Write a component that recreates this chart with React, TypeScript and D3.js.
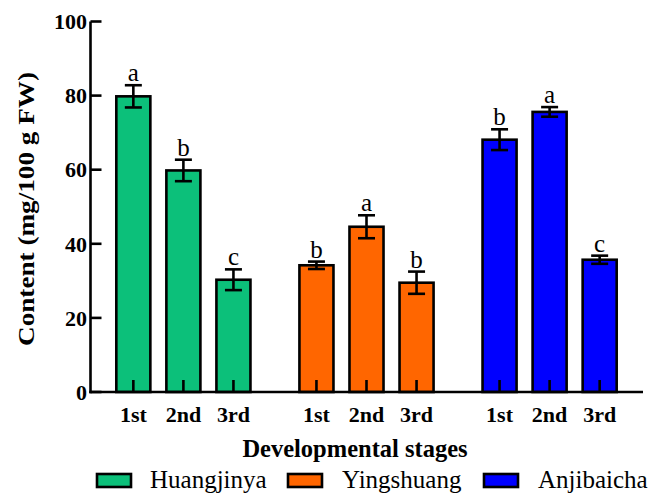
import React from "react";
import * as d3 from "d3";

const cultivars = ["Huangjinya", "Yingshuang", "Anjibaicha"];
const stages = ["1st", "2nd", "3rd"];
const colors = ["#0cc07a", "#ff6600", "#0000ff"];
const huangjinyaValues = [79.8, 59.8, 30.3];
const yingshuangValues = [34.2, 44.6, 29.5];
const anjibaichaValues = [68.1, 75.6, 35.7];
const huangjinyaErr = [3.0, 2.9, 2.8];
const yingshuangErr = [1.0, 3.1, 3.0];
const anjibaichaErr = [2.8, 1.3, 1.1];
const huangjinyaLetters = ["a", "b", "c"];
const yingshuangLetters = ["b", "a", "b"];
const anjibaichaLetters = ["b", "a", "c"];
const yTicks = [0, 20, 40, 60, 80, 100];

const valuesByCultivar = [huangjinyaValues, yingshuangValues, anjibaichaValues];
const errByCultivar = [huangjinyaErr, yingshuangErr, anjibaichaErr];
const lettersByCultivar = [huangjinyaLetters, yingshuangLetters, anjibaichaLetters];

const FONT = '"Liberation Serif"';

export default function App() {
  const W = 650;
  const H = 496;
  const axisX = 90.5;
  const axisY = 392;
  const y = d3.scaleLinear().domain([0, 100]).range([axisY, 21.5]);
  const xOuter = d3
    .scaleBand<string>()
    .domain(cultivars)
    .range([90, 643])
    .paddingInner(0.18)
    .paddingOuter(0.1);
  const xInner = d3
    .scaleBand<string>()
    .domain(stages)
    .range([0, xOuter.bandwidth()])
    .paddingInner(0.32)
    .paddingOuter(0.16);
  const bw = xInner.bandwidth();
  const capW = 17;
  const sw = 2.6;

  const bars: any[] = [];
  cultivars.forEach((c, ci) => {
    stages.forEach((s, si) => {
      const v = valuesByCultivar[ci][si];
      const e = errByCultivar[ci][si];
      const x0 = (xOuter(c) as number) + (xInner(s) as number);
      const cx = x0 + bw / 2;
      bars.push({ c, ci, s, si, v, e, x0, cx, letter: lettersByCultivar[ci][si] });
    });
  });

  const legendItems = [
    { x: 97, tx: 150 },
    { x: 288, tx: 342 },
    { x: 484, tx: 538 },
  ];

  const reg = { fontFamily: FONT };
  const bold = { fontFamily: FONT, fontWeight: 700 as const };

  return (
    <svg
      width={W}
      height={H}
      style={{ position: "absolute", left: 0, top: 0, background: "#fff" }}
    >
      <rect x={0} y={0} width={W} height={H} fill="#fff" />
      {bars.map((b, i) => (
        <g key={i}>
          <rect
            x={b.x0}
            y={y(b.v)}
            width={bw}
            height={axisY - y(b.v)}
            fill={colors[b.ci]}
            stroke="#000"
            strokeWidth={sw}
          />
          <line x1={b.cx} x2={b.cx} y1={axisY} y2={axisY - 12} stroke="#000" strokeWidth={sw} />
          <line x1={b.cx} x2={b.cx} y1={y(b.v + b.e)} y2={y(b.v - b.e)} stroke="#000" strokeWidth={sw} />
          <line
            x1={b.cx - capW / 2}
            x2={b.cx + capW / 2}
            y1={y(b.v + b.e)}
            y2={y(b.v + b.e)}
            stroke="#000"
            strokeWidth={sw}
          />
          <line
            x1={b.cx - capW / 2}
            x2={b.cx + capW / 2}
            y1={y(b.v - b.e)}
            y2={y(b.v - b.e)}
            stroke="#000"
            strokeWidth={sw}
          />
          <text x={b.cx} y={y(b.v + b.e) - 4} textAnchor="middle" fill="#000" fontSize={25} style={reg}>
            {b.letter}
          </text>
          <text x={b.cx} y={422} textAnchor="middle" fill="#000" fontSize={22} style={bold}>
            {b.s}
          </text>
        </g>
      ))}
      <line x1={axisX} x2={axisX} y1={y(100)} y2={axisY + 1.3} stroke="#000" strokeWidth={sw} />
      <line x1={axisX - 1.3} x2={643} y1={axisY} y2={axisY} stroke="#000" strokeWidth={sw} />
      {yTicks.map((t) => (
        <g key={t}>
          <line x1={axisX} x2={axisX + 11} y1={y(t)} y2={y(t)} stroke="#000" strokeWidth={sw} />
          <text x={87} y={y(t)} dy="0.35em" textAnchor="end" fill="#000" fontSize={22} style={bold}>
            {t}
          </text>
        </g>
      ))}
      <text
        transform={`translate(34, 209) rotate(-90)`}
        textAnchor="middle"
        fill="#000"
        fontSize={24}
        textLength={274}
        lengthAdjust="spacingAndGlyphs"
        style={bold}
      >
        Content (mg/100 g FW)
      </text>
      <text x={355} y={457} textAnchor="middle" fill="#000" fontSize={24.5} style={bold}>
        Developmental stages
      </text>
      {cultivars.map((c, i) => (
        <g key={c}>
          <rect
            x={legendItems[i].x}
            y={474}
            width={34}
            height={13}
            fill={colors[i]}
            stroke="#000"
            strokeWidth={sw}
          />
          <text x={legendItems[i].tx} y={488} fill="#000" fontSize={25} style={reg}>
            {c}
          </text>
        </g>
      ))}
    </svg>
  );
}
